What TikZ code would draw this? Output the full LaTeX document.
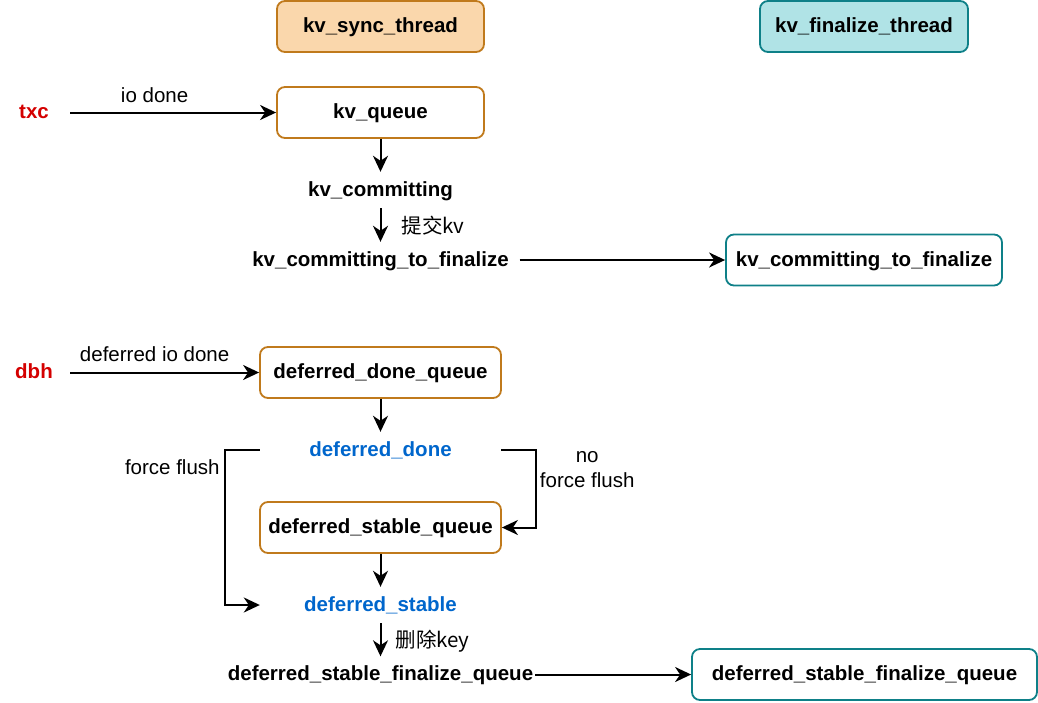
\documentclass[tikz,border=0pt]{standalone}
\usepackage{fontspec}
\setmainfont{Liberation Sans}
\newfontfamily\cjk{Noto Sans CJK SC}
\usetikzlibrary{arrows.meta}
\definecolor{orfill}{HTML}{FAD7AC}
\definecolor{ordraw}{HTML}{C07A1C}
\definecolor{tlfill}{HTML}{B0E3E6}
\definecolor{tldraw}{HTML}{0E8088}
\definecolor{srcred}{HTML}{D40000}
\definecolor{stblue}{HTML}{0066CC}
\tikzset{
  base/.style={font=\fontsize{20.5}{25}\selectfont, inner sep=0pt},
  bbox/.style={base, font=\fontsize{20.5}{25}\selectfont\bfseries, text height=17pt, text depth=4.3pt, draw, line width=1.8pt, rounded corners=8pt, minimum height=51pt},
  orbox/.style={bbox, draw=ordraw, fill=white},
  tlbox/.style={bbox, draw=tldraw, fill=white},
  plain/.style={base, font=\fontsize{20.5}{25}\selectfont\bfseries, text height=17pt, text depth=4.3pt, minimum height=36pt},
  state/.style={plain, text=stblue},
  src/.style={base, font=\fontsize{20.5}{25}\selectfont\bfseries, text height=17pt, text depth=4.3pt, text=srcred, minimum width=72pt},
  lbl/.style={base, font=\fontsize{20.5}{25}\selectfont},
  conn/.style={line width=2pt, -{Stealth[length=16pt,width=15pt,inset=5pt]}}
}
\begin{document}
\begin{tikzpicture}[x=1pt,y=-1pt]
\path[use as bounding box] (0,0) rectangle (1038,702);
% threads
\node[bbox, draw=ordraw, fill=orfill, minimum width=207pt] (syncth) at (380.5,26.5) {kv\_sync\_thread};
\node[bbox, draw=tldraw, fill=tlfill, minimum width=208pt] (finth) at (864,26.5) {kv\_finalize\_thread};
% kv part
\node[src] (txc) at (34,112.5) {txc};
\node[orbox, minimum width=207pt] (kvq) at (380.5,112.5) {kv\_queue};
\node[plain, minimum width=160pt] (kvc) at (380.5,190) {kv\_committing};
\node[plain, minimum width=278pt] (kvcf) at (380.5,260) {kv\_committing\_to\_finalize};
\node[tlbox, minimum width=276pt] (kvcfr) at (864,260) {kv\_committing\_to\_finalize};
\draw[conn] (txc) -- node[lbl, pos=0.41, anchor=south, yshift=9pt] {io done} (kvq);
\draw[conn] (kvq) -- (kvc);
\draw[conn] (kvc) -- node[lbl, anchor=west, xshift=20pt, yshift=-1pt] {\cjk 提交kv} (kvcf);
\draw[conn] (kvcf) -- (kvcfr);
% deferred part
\node[src] (dbh) at (34,372.5) {dbh};
\node[orbox, minimum width=241pt] (ddq) at (380.5,372.5) {deferred\_done\_queue};
\node[state, minimum width=241pt] (dd) at (380.5,450) {deferred\_done};
\node[orbox, minimum width=241pt] (dsq) at (380.5,527.5) {deferred\_stable\_queue};
\node[state, minimum width=241pt] (ds) at (380.5,605) {deferred\_stable};
\node[plain, minimum width=309pt] (dsfq) at (380.5,674.5) {deferred\_stable\_finalize\_queue};
\node[tlbox, minimum width=345pt] (dsfqr) at (864.5,674.5) {deferred\_stable\_finalize\_queue};
\draw[conn] (dbh) -- node[lbl, pos=0.447, anchor=south, yshift=10pt] {deferred io done} (ddq);
\draw[conn] (ddq) -- (dd);
\draw[conn] (dd.west) -- ++(-35,0) coordinate (ffc) |- (ds.west);
\node[lbl, anchor=north east] (ffl) at ([xshift=-5pt,yshift=-9pt]ffc) {force flush};
\draw[conn] (dd.east) -- ++(35,0) coordinate (nfc) |- (dsq.east);
\node[lbl, anchor=north, align=center] (nffl) at ([xshift=51pt,yshift=-1pt]nfc) {no\\force flush};
\draw[conn] (dsq) -- (ds);
\draw[conn] (ds) -- node[lbl, anchor=west, xshift=14pt, yshift=-1pt] {\cjk 删除key} (dsfq);
\draw[conn] (dsfq) -- (dsfqr);
\end{tikzpicture}
\end{document}
